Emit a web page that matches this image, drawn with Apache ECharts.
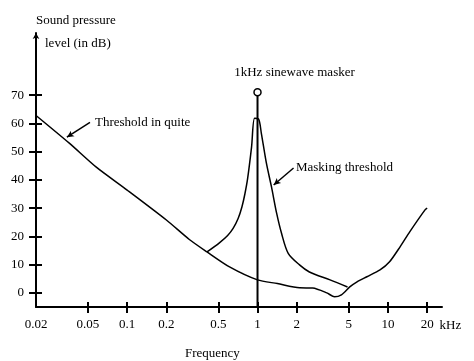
<!DOCTYPE html>
<html>
<head>
<meta charset="utf-8">
<script src="https://cdn.jsdelivr.net/npm/echarts@6/dist/echarts.min.js"></script>
<style>html,body{margin:0;padding:0;background:#fff}#c{width:474px;height:361px}</style>
</head>
<body>
<div id="c"></div>
<script>
// ---- data (frequency in kHz, level in dB) ----
const thresholdFreq = [0.02, 0.036, 0.058, 0.1, 0.2, 0.3, 0.41, 0.61, 1, 1.42, 2.1, 2.65, 3.4, 3.9, 4.4, 5.1, 5.8, 6.9, 8.7, 10.3, 12.4, 14.7, 19.2, 20];
const thresholdDb   = [62.8, 53, 44.5, 36.4, 25.8, 18.9, 14.5, 9.2, 4.6, 3.3, 1.8, 1.7, 0, -1.4, -0.7, 2.1, 3.9, 5.7, 8.1, 11, 16.3, 21.6, 29.3, 30];
const maskFreq = [0.41, 0.51, 0.59, 0.65, 0.71, 0.76, 0.8, 0.84, 0.9, 0.95, 1.02, 1.07, 1.17, 1.28, 1.4, 1.53, 1.72, 2.1, 2.5, 3.6, 4.9];
const maskDb   = [14.5, 17.7, 20.3, 22.8, 26.3, 30.5, 35, 40.5, 51.6, 61.8, 61.5, 56.5, 45.9, 37.5, 28.3, 21, 14, 9.9, 7.4, 4.6, 2.1];
const maskerFreq = 1;
const maskerDb = 71;
const xTicks = [0.05, 0.1, 0.2, 0.5, 1, 2, 5, 10, 20];
const xLabels = [0.02, 0.05, 0.1, 0.2, 0.5, 1, 2, 5, 10, 20];
const yTicks = [0, 10, 20, 30, 40, 50, 60, 70];

const font = 'Liberation Serif';
const txt = {color: '#000', fontFamily: font, fontSize: 13};
const zip = (a, b) => a.map((v, i) => [v, b[i]]);

const X_MIN = 0.02, X_MAX = 26, Y_MIN = -5, Y_MAX = 92;

const chart = echarts.init(document.getElementById('c'), null, {renderer: 'canvas'});
chart.setOption({
  animation: false,
  backgroundColor: '#fff',
  title: [
    {text: 'Sound pressure', left: 31, top: 9, textStyle: Object.assign({fontWeight: 'normal'}, txt)},
    {text: 'level (in dB)', left: 40, top: 32, textStyle: Object.assign({fontWeight: 'normal'}, txt)},
    {text: 'Frequency', left: 180, top: 342, textStyle: Object.assign({fontWeight: 'normal'}, txt)}
  ],
  grid: {left: 36, right: 32, top: 33, bottom: 54, containLabel: false, outerBoundsMode: 'none'},
  xAxis: [
    {
      type: 'log', logBase: 10, min: X_MIN, max: X_MAX, position: 'bottom',
      name: 'kHz', nameLocation: 'end', nameGap: -7,
      nameTextStyle: Object.assign({verticalAlign: 'top', align: 'left', padding: [12, 0, 0, 0]}, txt),
      axisLine: {onZero: false, lineStyle: {color: '#000', width: 2}},
      axisTick: {show: true, inside: false, length: 6, customValues: xTicks, lineStyle: {color: '#000', width: 2}},
      axisLabel: Object.assign({margin: 11, customValues: xLabels, formatter: v => String(v), hideOverlap: false}, txt),
      minorTick: {show: false}, splitLine: {show: false}
    },
    {
      type: 'log', logBase: 10, min: X_MIN, max: X_MAX, position: 'bottom',
      axisLine: {show: false, onZero: false},
      axisTick: {show: true, inside: true, length: 5, customValues: xTicks, lineStyle: {color: '#000', width: 2}},
      axisLabel: {show: false}, splitLine: {show: false}
    }
  ],
  yAxis: [
    {
      type: 'value', min: Y_MIN, max: Y_MAX, position: 'left',
      axisLine: {show: true, onZero: false, symbol: ['none', 'arrow'], symbolSize: [5, 6], lineStyle: {color: '#000', width: 2}},
      axisTick: {show: true, inside: false, length: 7, customValues: yTicks, lineStyle: {color: '#000', width: 2}},
      axisLabel: Object.assign({margin: 12, customValues: yTicks}, txt),
      splitLine: {show: false}
    },
    {
      type: 'value', min: Y_MIN, max: Y_MAX, position: 'left',
      axisLine: {show: false, onZero: false},
      axisTick: {show: true, inside: true, length: 6, customValues: yTicks, lineStyle: {color: '#000', width: 2}},
      axisLabel: {show: false}, splitLine: {show: false}
    }
  ],
  series: [
    {
      name: 'Threshold in quiet', type: 'line', xAxisIndex: 0, yAxisIndex: 0,
      data: zip(thresholdFreq, thresholdDb), showSymbol: false, smooth: 0.25,
      lineStyle: {color: '#000', width: 1.5}, silent: true,
      markLine: {
        silent: true, symbol: ['arrow', 'none'], symbolSize: [5, 7],
        label: {show: false}, lineStyle: {color: '#000', width: 1.5, type: 'solid', curveness: 0.3},
        data: [[{coord: [0.0345, 55.1]}, {coord: [0.0519, 60.4]}]]
      },
      markPoint: {
        silent: true, symbol: 'circle', symbolSize: 0,
        label: Object.assign({show: true, position: 'right', distance: 0, formatter: 'Threshold in quite'}, txt),
        data: [{coord: [0.0567, 60.2]}]
      }
    },
    {
      name: 'Masking threshold', type: 'line', xAxisIndex: 0, yAxisIndex: 0,
      data: zip(maskFreq, maskDb), showSymbol: false, smooth: 0.3,
      lineStyle: {color: '#000', width: 1.5}, silent: true,
      markLine: {
        silent: true, symbol: ['arrow', 'none'], symbolSize: [5, 7],
        label: {show: false}, lineStyle: {color: '#000', width: 1.5, type: 'solid', curveness: 0.3},
        data: [[{coord: [1.33, 38.2]}, {coord: [1.89, 44.2]}]]
      },
      markPoint: {
        silent: true, symbol: 'circle', symbolSize: 0,
        label: Object.assign({show: true, position: 'right', distance: 0, formatter: 'Masking threshold'}, txt),
        data: [{coord: [1.97, 44.2]}]
      }
    },
    {
      name: '1kHz sinewave masker', type: 'line', xAxisIndex: 0, yAxisIndex: 0,
      data: [[maskerFreq, Y_MIN], [maskerFreq, maskerDb]], showSymbol: false,
      lineStyle: {color: '#000', width: 2}, silent: true,
      markPoint: {
        silent: true, symbol: 'circle', symbolSize: 7,
        itemStyle: {color: '#fff', borderColor: '#000', borderWidth: 1.5},
        label: Object.assign({show: true, position: 'top', distance: 9, offset: [37, 0], formatter: '1kHz sinewave masker', opacity: 1}, txt),
        data: [{coord: [maskerFreq, maskerDb]}]
      }
    }
  ]
});
</script>
</body>
</html>
